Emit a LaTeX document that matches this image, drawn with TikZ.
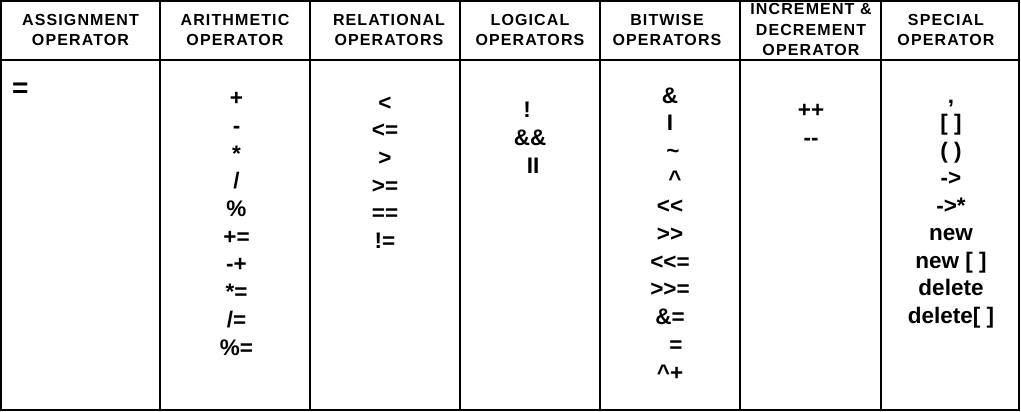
\documentclass[tikz,border=0pt]{standalone}
\usepackage{fontspec}
\setmainfont{Liberation Sans}[Ligatures=TeXOff]
\newfontfamily\headfont{Liberation Sans}[LetterSpace=7,Ligatures=TeXOff]
\usepackage{tikz}

\begin{document}
\begin{tikzpicture}[x=1pt,y=-1pt,
	head/.style={font=\headfont\bfseries\fontsize{16}{20.5}\selectfont, align=center, inner sep=0pt},
	ops/.style={font=\bfseries\fontsize{22.5}{27.7}\selectfont, align=center, inner sep=0pt, anchor=base},
	rule/.style={line width=1.5pt}]
		\useasboundingbox (0,0) rectangle (1021,412);
		\draw[rule] (1,1) rectangle (1019,410);
		\draw[rule] (1,60) -- (1019,60);
		\draw[rule] (160,1) -- (160,410);
		\draw[rule] (310,1) -- (310,410);
		\draw[rule] (460,1) -- (460,410);
		\draw[rule] (600,1) -- (600,410);
		\draw[rule] (740,1) -- (740,410);
		\draw[rule] (881,1) -- (881,410);
		\node[head] (hasg) at (80.5,30) {ASSIGNMENT\\OPERATOR};
		\node[head] (hari) at (235,30) {ARITHMETIC\\OPERATOR};
		\node[head] (hrel) at (389,30) {RELATIONAL\\OPERATORS};
		\node[head] (hlog) at (530,30) {LOGICAL\\OPERATORS};
		\node[head] (hbit) at (667,30) {BITWISE\\OPERATORS};
		\node[head] (hinc) at (811,29.5) {INCREMENT \&\\DECREMENT\\OPERATOR};
		\node[head] (hspe) at (946,30) {SPECIAL\\OPERATOR};
		\node[ops, anchor=base west, font=\bfseries\fontsize{28}{30}\selectfont] (asg) at (12,98) {=};
		\node[ops] (ari) at (236.5,355) {+\\-\\*\\/\\\%\\+=\\-+\\*=\\/=\\\%=};
		\node[ops] (rel) at (385,248.5) {<\\<=\\>\\>=\\==\\!=};
		\node[ops] (log) at (530,173.3) {!\hspace*{6pt}\\\&\&\\\hspace*{6pt}II};
		\node[ops] (bit) at (670,380) {\&\\I\\\hspace*{6pt}\textasciitilde\\\hspace*{10pt}\textasciicircum\\<<\\>>\\<<=\\>>=\\\&=\\\hspace*{12pt}=\\\textasciicircum+};
		\node[ops] (inc) at (811,145.5) {++\\-{}-};
		\node[ops, font=\bfseries\fontsize{22.5}{27.5}\selectfont] (spe) at (951,323.3) {,\\{[ ]}\\( )\\->\\->*\\new\\new [ ]\\delete\\delete[ ]};
\end{tikzpicture}
\end{document}
